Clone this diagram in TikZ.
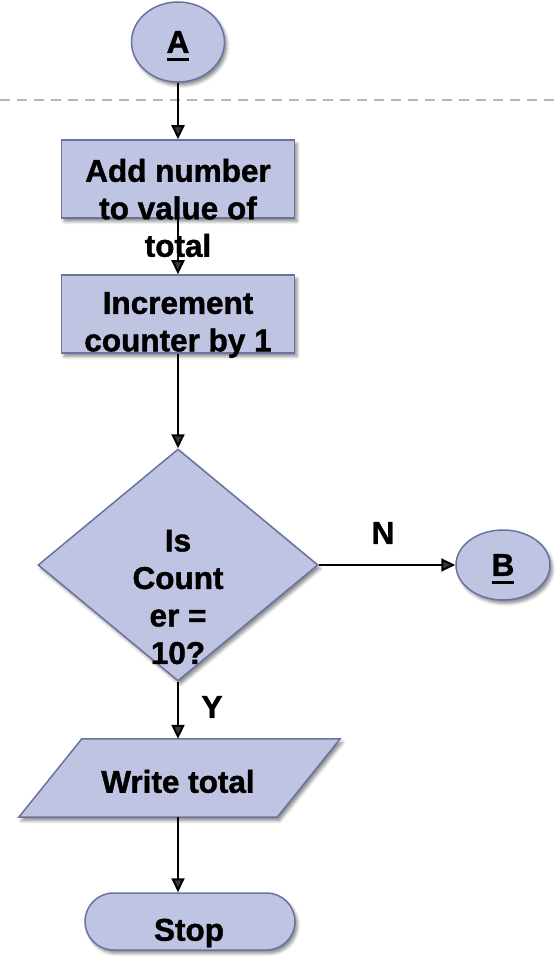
\documentclass[tikz,border=0pt]{standalone}
\usepackage{fontspec}
\setmainfont{Liberation Sans}[BoldFeatures={FakeBold=1.3}]
\usetikzlibrary{arrows.meta,shapes.geometric,shapes.misc,shadows.blur}

\definecolor{shapefill}{RGB}{168,176,213}
\definecolor{shapelight}{RGB}{190,196,226}
\definecolor{shapeedge}{RGB}{106,115,160}
\definecolor{sepline}{RGB}{165,186,206}

% bold letter with a thick underline that does not change the box depth
\newcommand{\ulletter}[1]{\setbox0\hbox{#1}\rlap{\smash{\rule[-8pt]{\wd0}{3pt}}}\box0}

\begin{document}
\begin{tikzpicture}[x=1pt,y=-1pt,
  flowshape/.style={draw=shapeedge, line width=1.5pt,
    left color=shapelight, middle color=shapefill, right color=shapelight,
    blur shadow={shadow xshift=2.5pt, shadow yshift=-3.5pt,
      shadow blur radius=3pt, shadow opacity=45},
    inner sep=0pt},
  flowtext/.style={font=\fontsize{31.5}{37.5}\selectfont\bfseries,
    align=center, inner sep=0pt},
  flowarrow/.style={line width=2pt, -{Triangle[length=14pt,width=13pt]}},
]
\useasboundingbox (0,0) rectangle (556,957);

% page separator
\draw[sepline, line width=2pt, dash pattern=on 10pt off 7pt] (0,100) -- (556,100);

% shapes
\node[flowshape, ellipse, minimum width=93pt, minimum height=80pt, flowtext]
  (A) at (178,42) {\ulletter{A}};
\node[flowshape, rectangle, minimum width=233pt, minimum height=78pt]
  (add) at (178,179) {};
\node[flowshape, rectangle, minimum width=233pt, minimum height=78pt]
  (inc) at (178,314) {};
\node[flowshape, diamond, minimum width=280pt, minimum height=232pt, aspect=1.2]
  (dec) at (178,565) {};
\node[flowshape, ellipse, minimum width=94pt, minimum height=70pt, flowtext]
  (B) at (503,565) {\ulletter{B}};
% input/output box: the node spans the slanted sides' midpoints
\node[rectangle, minimum width=258pt, minimum height=78pt, inner sep=0pt]
  (write) at (179.5,778) {};
\path[flowshape]
  ([shift={(-31.5,0)}]write.south west) -- ([shift={(31.5,0)}]write.north west)
  -- ([shift={(31.5,0)}]write.north east) -- ([shift={(-31.5,0)}]write.south east)
  -- cycle;
\node[flowshape, rounded rectangle, minimum width=210pt, minimum height=57pt]
  (stop) at (190,921.5) {};

% texts
\node[flowtext] (addtext) at (178,208) {Add number\\to value of\\total};
\node[flowtext] (inctext) at (178,325) {Increment\\counter by 1};
\node[flowtext] (dectext) at (178,597) {Is\\Count\\er =\\10?};
\node[flowtext] (writetext) at (178,781.5) {Write total};
\node[flowtext] (stoptext) at (189,933) {Stop};
\node[flowtext] (nlabel) at (383,533) {N};
\node[flowtext] (ylabel) at (212,707) {Y};

% connectors
\draw[flowarrow] (A.south) -- (add.north);
\draw[flowarrow] (add.south) -- (inc.north);
\draw[flowarrow] (inc.south) -- (dec.north);
\draw[flowarrow] (dec.east) -- (B.west);
\draw[flowarrow] (dec.south) -- (dec.south |- write.north);
\draw[flowarrow] (dec.south |- write.south) -- (dec.south |- stop.north);
\end{tikzpicture}
\end{document}
